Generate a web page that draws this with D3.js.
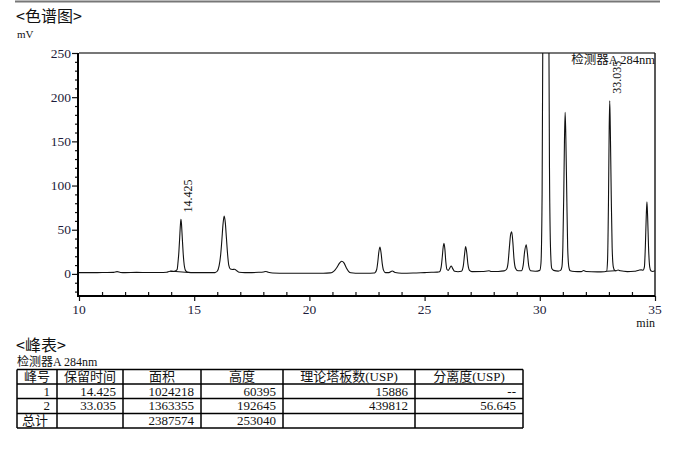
<!DOCTYPE html>
<html><head><meta charset="utf-8">
<script src="https://cdn.jsdelivr.net/npm/d3@7"></script>
<style>
html,body{margin:0;padding:0;background:#fff;}
svg{display:block;}
</style></head>
<body>
<svg id="c" width="681" height="449"></svg>
<script>
// ---- Data ----
const traceTime = [10.0,10.5,11.0,11.5,11.65,11.8,12.0,12.5,13.0,13.5,13.8,13.95,14.1,14.2,14.26,14.30,14.33,14.37,14.40,14.425,14.45,14.48,14.52,14.55,14.62,14.70,14.85,15.2,15.6,15.9,16.0,16.08,16.15,16.2,16.25,16.3,16.35,16.4,16.45,16.5,16.57,16.65,16.75,16.85,16.95,17.2,17.5,17.8,18.0,18.1,18.2,18.4,19.0,19.5,20.0,20.6,20.9,21.0,21.1,21.2,21.3,21.4,21.5,21.6,21.7,21.8,22.0,22.5,22.8,22.85,22.92,22.97,23.01,23.06,23.11,23.16,23.22,23.3,23.45,23.6,23.72,24.0,24.5,25.0,25.3,25.55,25.65,25.72,25.77,25.81,25.84,25.88,25.92,25.97,26.03,26.1,26.16,26.22,26.3,26.45,26.6,26.68,26.73,26.78,26.83,26.88,26.95,27.05,27.5,27.8,27.9,28.2,28.45,28.55,28.62,28.68,28.73,28.78,28.83,28.88,28.95,29.05,29.2,29.28,29.34,29.41,29.46,29.52,29.6,29.8,30.0,30.05,30.1,30.15,30.2,30.26,30.32,30.37,30.42,30.47,30.52,30.6,30.8,30.9,30.96,31.0,31.04,31.07,31.1,31.13,31.17,31.21,31.26,31.32,31.5,31.8,31.9,32.0,32.5,32.8,32.9,32.94,32.98,33.01,33.035,33.06,33.1,33.14,33.19,33.25,33.3,33.4,33.5,33.8,34.1,34.3,34.4,34.48,34.54,34.58,34.62,34.65,34.68,34.72,34.77,34.82,34.9,35.0];
const traceMV   = [1.5,1.4,1.6,1.7,2.6,1.6,1.4,1.7,1.6,1.6,1.8,3.0,2.8,3.5,5,14,23,41,55,61.7,56,42,24,14,4,2,1.5,1.4,1.4,1.5,3,9,22,38,56,65.5,58,40,22,10,5.5,5,5.3,3.5,1.8,1.4,1.5,1.8,2.2,2.8,2.0,1.0,0.8,0.8,0.8,0.8,1.2,2,4,7.5,12,14.4,12.5,7,3,1.3,0.8,0.8,1.0,1.5,5,14,24,30.5,24,12,4,1.5,1.5,3.3,1.5,0.8,1.0,1.5,1.8,2.0,2.5,8,20,31,34.5,28,14,5,4,7,9,6,3,2.5,3,9,21,31,24,11,4,2.6,2.7,3.5,2.7,2.8,3.4,5,12,30,44,47.7,36,17,6,3.5,3.5,10,25,33,24,9,3.5,3.0,4,12,90,380,800,1040,800,420,120,25,6,4,3.2,4,8,30,90,150,183,155,90,30,8,3.5,2.8,2.6,3.8,2.8,2.3,2.5,3.0,15,80,160,196,165,90,30,8,4,3.5,4.5,3.5,2.6,3.0,4.2,4.6,4.2,8,30,65,81.5,65,30,8,3.5,2.8,3.6];

const peakLabels = ["14.425", "33.035"];
const peakTimes = [14.425, 33.035];
const peakApex = [61.7, 196];
const peakBaseT = [[13.96, 14.8], [32.9, 33.3]];
const peakBaseV = [[3.2, 1.5], [3.0, 3.6]];

const xDomain = [10, 35];
const yDomain = [-25, 250];
const xMajor = [10, 15, 20, 25, 30, 35];
const yMajor = [0, 50, 100, 150, 200, 250];

const tableHeader = ["峰号", "保留时间", "面积", "高度", "理论塔板数(USP)", "分离度(USP)"];
const colPeak = ["1", "2", "总计"];
const colRT = ["14.425", "33.035", ""];
const colArea = ["1024218", "1363355", "2387574"];
const colHeight = ["60395", "192645", "253040"];
const colPlates = ["15886", "439812", ""];
const colRes = ["--", "56.645", ""];

// ---- Drawing ----
const svg = d3.select("#c");
const serif = "'Liberation Serif','Noto Sans CJK SC',serif";
const cjk = "'Noto Sans CJK SC','Liberation Serif',sans-serif";
const L = 79, R = 655, T = 53, B = 296;
const x = d3.scaleLinear().domain(xDomain).range([L, R]);
const y = d3.scaleLinear().domain(yDomain).range([B, T]);

// top page rule
svg.append("line").attr("x1", 15).attr("x2", 660).attr("y1", 1.5).attr("y2", 1.5)
  .attr("stroke", "#777").attr("stroke-width", 2);

svg.append("text").attr("x", 16).attr("y", 22).attr("font-family", cjk)
  .attr("font-size", 16).attr("fill", "#111").text("<色谱图>");
svg.append("text").attr("x", 17).attr("y", 38).attr("font-family", serif)
  .attr("font-size", 11).attr("fill", "#111").text("mV");

// clip
svg.append("defs").append("clipPath").attr("id", "pc").append("rect")
  .attr("x", L).attr("y", T).attr("width", R - L).attr("height", B - T);

// frame top / right
svg.append("line").attr("x1", L).attr("x2", R).attr("y1", T).attr("y2", T)
  .attr("stroke", "#777").attr("stroke-width", 2);
svg.append("line").attr("x1", R).attr("x2", R).attr("y1", T).attr("y2", B)
  .attr("stroke", "#222").attr("stroke-width", 1.5);

// trace
const pts = traceTime.map((t, i) => [t, traceMV[i]]);
const line = d3.line().x(d => x(d[0])).y(d => y(d[1])).curve(d3.curveMonotoneX);
const g = svg.append("g").attr("clip-path", "url(#pc)");
g.append("path").datum(pts).attr("d", line).attr("fill", "none")
  .attr("stroke", "#111").attr("stroke-width", 1.1);
peakBaseT.forEach((bt, i) => {
  g.append("line").attr("x1", x(bt[0])).attr("x2", x(bt[1]))
    .attr("y1", y(peakBaseV[i][0])).attr("y2", y(peakBaseV[i][1]))
    .attr("stroke", "#111").attr("stroke-width", 1);
});

// y axis
const yAx = svg.append("g").attr("transform", `translate(${L - 1},0)`)
  .call(d3.axisLeft(y).tickValues(d3.range(-20, 251, 10)).tickSize(3).tickFormat(""));
yAx.select(".domain").remove();
yAx.selectAll(".tick line").attr("stroke", "#111").attr("stroke-width", 1.2)
  .attr("x2", d => yMajor.includes(d) ? -6 : -3);
svg.append("line").attr("x1", L - 1).attr("x2", L - 1).attr("y1", T).attr("y2", B + 1)
  .attr("stroke", "#000").attr("stroke-width", 2);
yMajor.forEach(v => {
  svg.append("text").attr("x", 71).attr("y", y(v) + 4.5).attr("text-anchor", "end")
    .attr("font-family", serif).attr("font-size", 13.5).attr("fill", "#1c1c3a").text(v);
});

// x axis
const xAx = svg.append("g").attr("transform", `translate(0,${B})`)
  .call(d3.axisBottom(x).tickValues(d3.range(10, 35.01, 1)).tickSize(4).tickFormat(""));
xAx.select(".domain").remove();
xAx.selectAll(".tick line").attr("stroke", "#111").attr("stroke-width", 1.2)
  .attr("y2", d => xMajor.includes(d) ? 5 : -4);
svg.append("line").attr("x1", L - 2).attr("x2", R).attr("y1", B).attr("y2", B)
  .attr("stroke", "#000").attr("stroke-width", 2);
xMajor.forEach(v => {
  svg.append("text").attr("x", x(v)).attr("y", 314).attr("text-anchor", "middle")
    .attr("font-family", serif).attr("font-size", 13.5).attr("fill", "#1c1c3a").text(v);
});
svg.append("text").attr("x", 655).attr("y", 327).attr("text-anchor", "end")
  .attr("font-family", serif).attr("font-size", 12).attr("fill", "#111").text("min");

// peak labels
peakLabels.forEach((lab, i) => {
  svg.append("text")
    .attr("transform", `translate(${x(peakTimes[i]) + 11},${y(peakApex[i]) - 7}) rotate(-90)`)
    .attr("font-family", serif).attr("font-size", 12).attr("fill", "#111").text(lab);
});
svg.append("text").attr("x", 655).attr("y", 63.5).attr("text-anchor", "end")
  .attr("font-family", serif).attr("font-size", 12.5).attr("fill", "#111").text("检测器A 284nm");

// ---- Peak table ----
svg.append("text").attr("x", 16).attr("y", 351).attr("font-family", cjk)
  .attr("font-size", 16).attr("fill", "#111").text("<峰表>");
svg.append("text").attr("x", 17).attr("y", 365.5).attr("font-family", serif)
  .attr("font-size", 12).attr("fill", "#111").text("检测器A 284nm");

const colX = [17, 57, 123, 201, 283, 415, 523];
const rowY = [369.5, 384, 398.5, 413.5, 428];
const tg = svg.append("g");
colX.forEach(cx => tg.append("line").attr("x1", cx).attr("x2", cx).attr("y1", rowY[0]).attr("y2", rowY[rowY.length - 1])
  .attr("stroke", "#000").attr("stroke-width", 1.5));
rowY.forEach(ry => tg.append("line").attr("x1", colX[0]).attr("x2", colX[colX.length - 1]).attr("y1", ry).attr("y2", ry)
  .attr("stroke", "#000").attr("stroke-width", 1.5));
tableHeader.forEach((h, i) => {
  tg.append("text").attr("x", (colX[i] + colX[i + 1]) / 2).attr("y", rowY[0] + 11.5)
    .attr("text-anchor", "middle").attr("font-family", serif).attr("font-size", 13)
    .attr("fill", "#111").text(h);
});
const cols = [colPeak, colRT, colArea, colHeight, colPlates, colRes];
cols.forEach((col, ci) => {
  col.forEach((v, ri) => {
    const isTotal = ci === 0 && ri === 2;
    tg.append("text")
      .attr("x", isTotal ? (colX[0] + colX[1]) / 2 - 2 : colX[ci + 1] - 7)
      .attr("y", rowY[ri + 1] + 11.5)
      .attr("text-anchor", isTotal ? "middle" : "end")
      .attr("font-family", serif).attr("font-size", 13).attr("fill", "#111").text(v);
  });
});
</script>
</body></html>
